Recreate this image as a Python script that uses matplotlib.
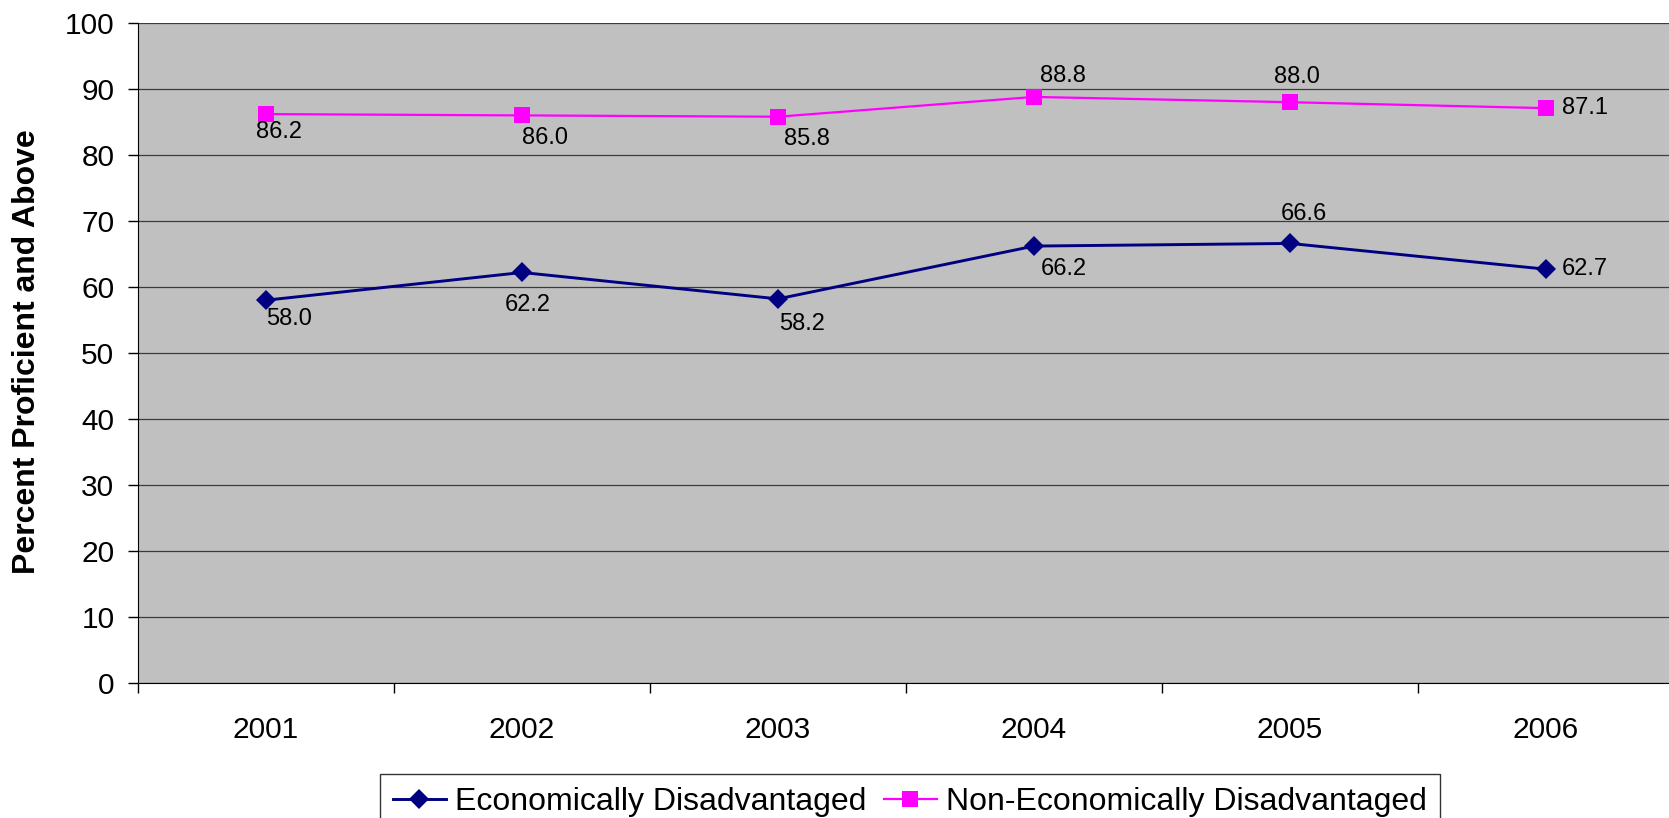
import matplotlib.pyplot as plt

years = ["2001", "2002", "2003", "2004", "2005", "2006"]
econ_dis = [58.0, 62.2, 58.2, 66.2, 66.6, 62.7]
non_econ_dis = [86.2, 86.0, 85.8, 88.8, 88.0, 87.1]

# desplazamiento de las etiquetas (pixeles) como en el original
econ_offsets = [(23, -19), (6, -33), (24, -25), (30, -23), (14, 29), (39, 0)]
non_offsets = [(13, -18), (23, -23), (29, -22), (29, 21), (7, 25), (39, 0)]

plt.rcParams['font.family'] = ['Liberation Sans', 'DejaVu Sans']

fig = plt.figure(figsize=(16.69, 8.18), dpi=100)
ax = fig.add_axes([138 / 1669, 1 - 683 / 818, 1536 / 1669, 660 / 818])
ax.set_facecolor('#c0c0c0')

x = list(range(len(years)))
ax.plot(x, econ_dis, color='#000080', lw=2.1, marker='D', ms=10.5, mew=0,
        label='Economically Disadvantaged', zorder=3)
ax.plot(x, non_econ_dis, color='#ff00ff', lw=1.6, marker='s', ms=11, mew=0,
        label='Non-Economically Disadvantaged', zorder=3)

for i in x:
    ax.annotate(f"{econ_dis[i]:.1f}", (i, econ_dis[i]), xytext=econ_offsets[i],
                textcoords='offset pixels', ha='center', va='center', fontsize=17)
    ax.annotate(f"{non_econ_dis[i]:.1f}", (i, non_econ_dis[i]), xytext=non_offsets[i],
                textcoords='offset pixels', ha='center', va='center', fontsize=17)

ax.set_xlim(-0.5, 5.5)
ax.set_ylim(0, 100)
ax.set_yticks(range(0, 101, 10))
ax.set_xticks(x)
ax.set_xticklabels(years)
ax.set_xticks([i - 0.5 for i in range(len(years) + 1)], minor=True)
ax.tick_params(axis='x', which='major', length=0, pad=24, labelsize=21.5)
ax.tick_params(axis='x', which='minor', length=7, width=1, color='black')
ax.tick_params(axis='y', length=7, width=1, pad=10, labelsize=21.5)
ax.yaxis.grid(True, color='#3c3c3c', lw=0.9)
ax.set_axisbelow(True)
for s in ['top', 'right']:
    ax.spines[s].set_visible(False)
ax.spines['left'].set_color('black')
ax.spines['bottom'].set_color('black')

fig.text(27 / 1669, 1 - 352 / 818, "Percent Proficient and Above", rotation=90,
         ha='center', va='center', fontsize=23, fontweight='bold')

leg = fig.legend(loc='upper center', bbox_to_anchor=(910 / 1669, 1 - 774 / 818), ncol=2,
                 fontsize=23, frameon=True, fancybox=False, edgecolor='black',
                 handlelength=1.65, handletextpad=0.3, columnspacing=0.55,
                 borderpad=0.4, borderaxespad=0)
leg.get_frame().set_linewidth(1)

fig.savefig("out.png", dpi=100)
